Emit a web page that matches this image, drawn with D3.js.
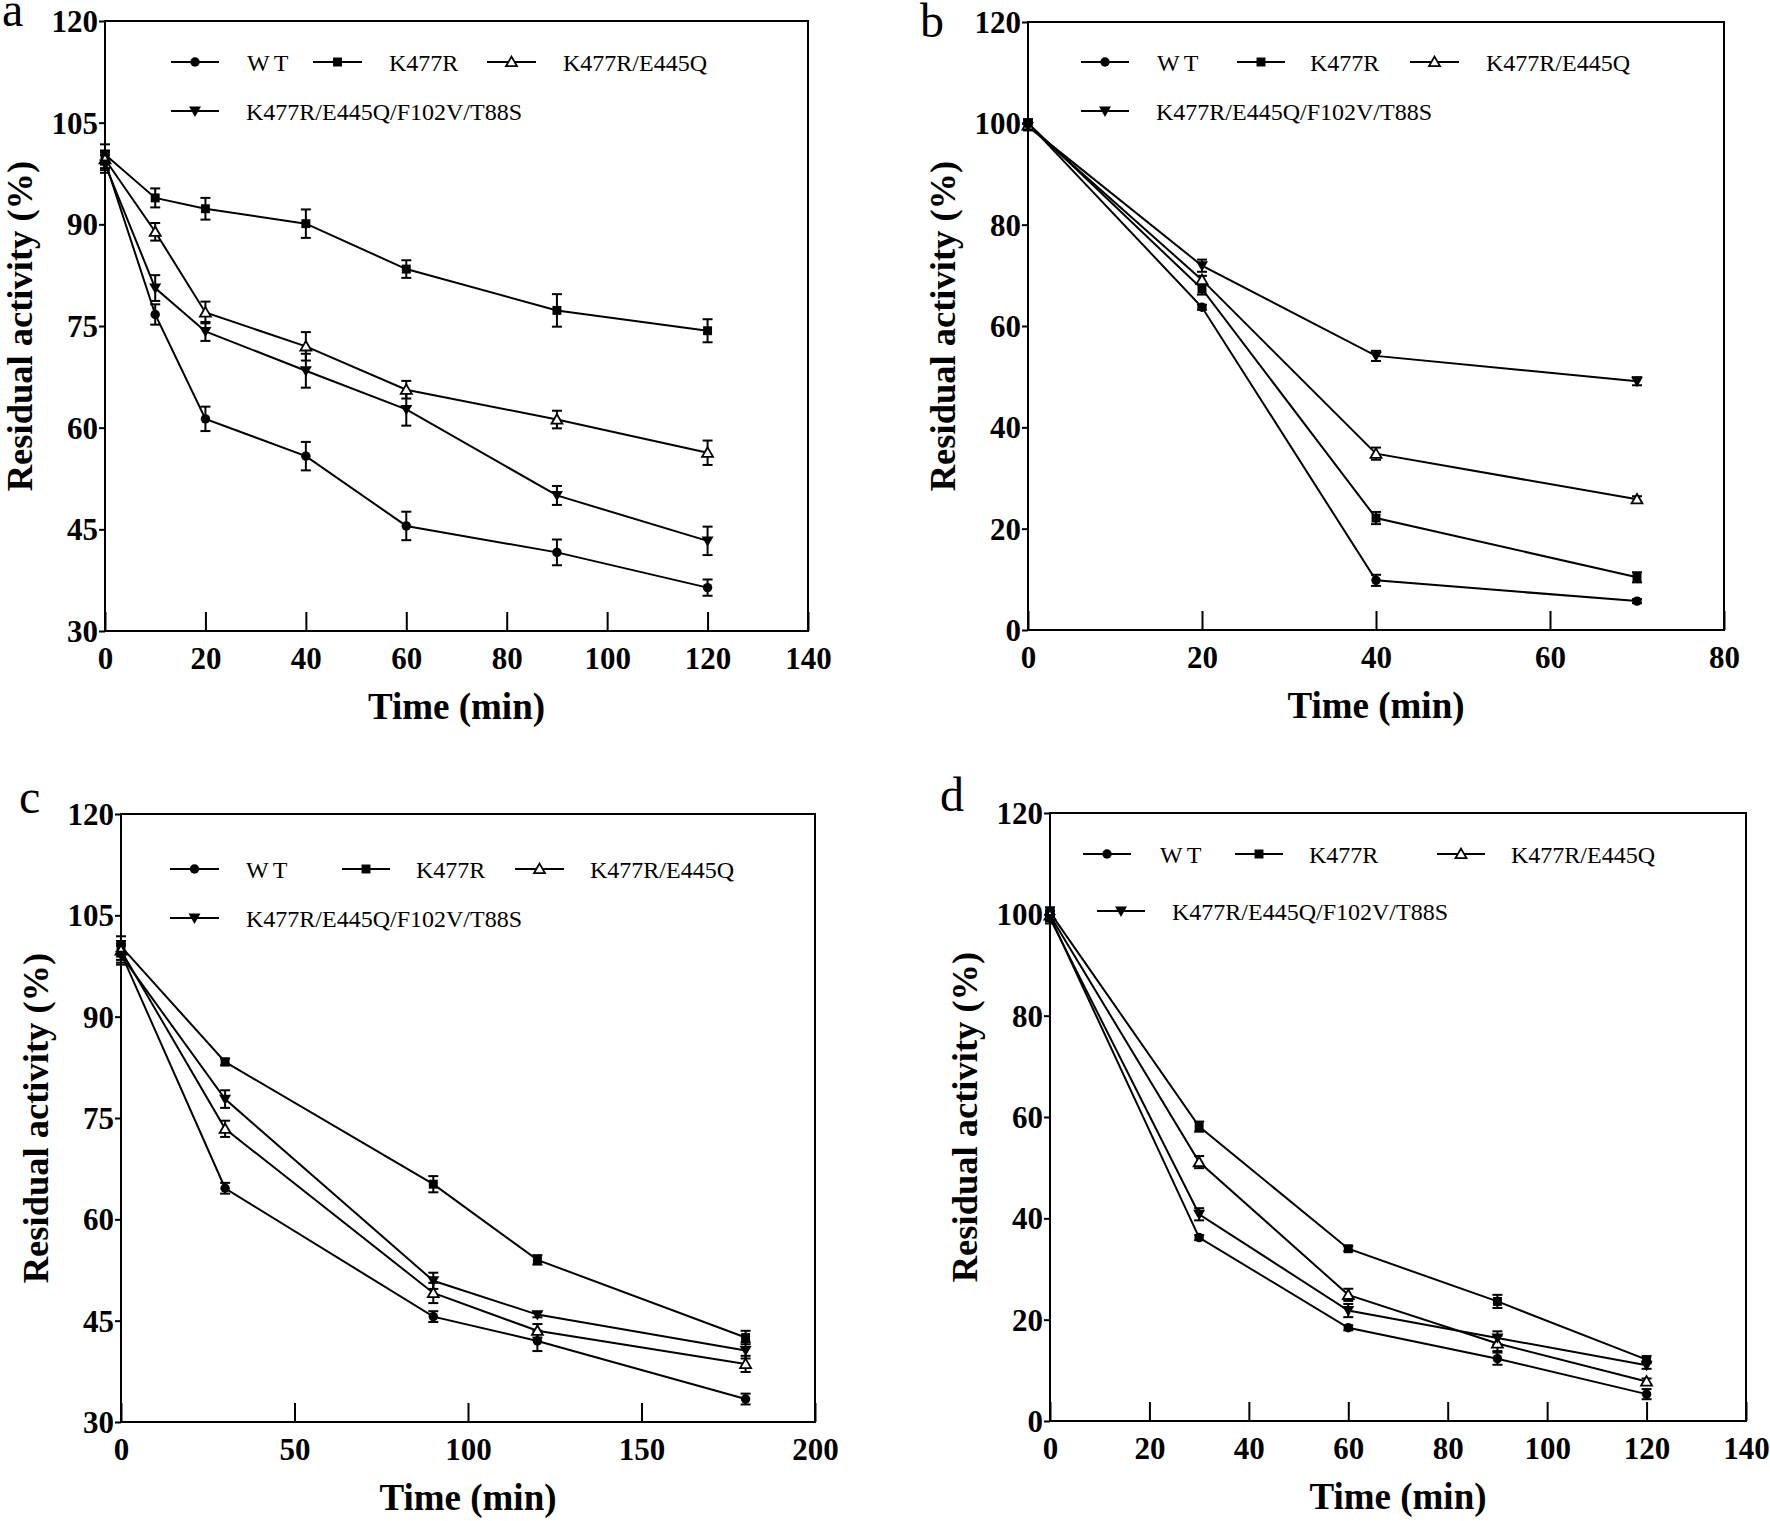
<!DOCTYPE html>
<html>
<head>
<meta charset="utf-8">
<script src="https://cdn.jsdelivr.net/npm/d3@7"></script>
<style>
  html, body { margin: 0; padding: 0; background: #fff; }
  svg { display: block; }
</style>
</head>
<body>
<svg id="chart" width="1770" height="1521"></svg>
<script>
// ---------------- DATA ----------------
const seriesNames = ["WT", "K477R", "K477R/E445Q", "K477R/E445Q/F102V/T88S"];

// Panel a
const timeA = [0, 10, 20, 40, 60, 90, 120];
const wtA      = [99.3, 76.7, 61.3, 55.8, 45.5, 41.6, 36.4];
const wtErrA   = [1.3, 1.5, 1.8, 2.1, 2.1, 1.9, 1.2];
const k477rA   = [100.3, 93.9, 92.3, 90.1, 83.4, 77.3, 74.3];
const k477rErrA= [1.5, 1.4, 1.6, 2.1, 1.3, 2.4, 1.7];
const triA     = [99.6, 88.9, 77.0, 72.0, 65.6, 61.2, 56.3];
const triErrA  = [1.3, 1.3, 1.6, 2.1, 1.3, 1.3, 1.8];
const quadA    = [98.9, 80.6, 74.2, 68.4, 62.7, 50.0, 43.3];
const quadErrA = [1.3, 1.9, 1.4, 2.5, 2.4, 1.4, 2.1];
const yTicksA = [30, 45, 60, 75, 90, 105, 120];
const xTicksA = [0, 20, 40, 60, 80, 100, 120, 140];

// Panel b
const timeB = [0, 20, 40, 70];
const wtB      = [100, 63.7, 9.8, 5.7];
const wtErrB   = [0.8, 0.5, 1.1, 0.4];
const k477rB   = [100, 67.3, 22.1, 10.4];
const k477rErrB= [0.8, 1.1, 1.2, 1.0];
const triB     = [99.6, 69.1, 34.8, 25.8];
const triErrB  = [0.8, 0.8, 1.2, 0.6];
const quadB    = [99.4, 71.9, 54.1, 49.1];
const quadErrB = [0.8, 1.2, 1.0, 0.8];
const yTicksB = [0, 20, 40, 60, 80, 100, 120];
const xTicksB = [0, 20, 40, 60, 80];

// Panel c
const timeC = [0, 30, 90, 120, 180];
const wtC      = [99.4, 64.6, 45.6, 42.0, 33.4];
const wtErrC   = [1.4, 0.8, 0.8, 1.5, 0.8];
const k477rC   = [100.4, 83.3, 65.2, 54.0, 42.5];
const k477rErrC= [1.5, 0.5, 1.2, 0.7, 1.0];
const triC     = [99.8, 73.4, 49.1, 43.5, 38.6];
const triErrC  = [1.4, 1.2, 1.5, 1.0, 1.2];
const quadC    = [99.1, 77.8, 50.9, 45.9, 40.6];
const quadErrC = [1.4, 1.3, 1.2, 0.4, 1.2];
const yTicksC = [30, 45, 60, 75, 90, 105, 120];
const xTicksC = [0, 50, 100, 150, 200];

// Panel d
const timeD = [0, 30, 60, 90, 120];
const wtD      = [99.6, 36.2, 18.4, 12.3, 5.3];
const wtErrD   = [1.0, 0.5, 0.5, 1.2, 1.0];
const k477rD   = [100.4, 58.1, 34.0, 23.6, 12.1];
const k477rErrD= [1.0, 1.0, 0.5, 1.3, 0.7];
const triD     = [99.8, 51.1, 24.9, 15.3, 7.8];
const triErrD  = [1.0, 1.2, 1.2, 1.5, 0.6];
const quadD    = [99.2, 40.8, 21.8, 16.4, 11.0];
const quadErrD = [1.0, 1.2, 1.3, 1.3, 0.7];
const yTicksD = [0, 20, 40, 60, 80, 100, 120];
const xTicksD = [0, 20, 40, 60, 80, 100, 120, 140];

const xTitle = "Time (min)";
const yTitle = "Residual activity (%)";

// ---------------- LAYOUT ----------------
const panels = [
  { letter: "a", lx: 2, ly: 26,
    box: { l: 105, r: 808, t: 21, b: 631 }, xDom: [0, 140], yDom: [30, 120],
    xTicks: xTicksA, yTicks: yTicksA, time: timeA,
    series: [[wtA, wtErrA], [k477rA, k477rErrA], [triA, triErrA], [quadA, quadErrA]],
    legRows: [62, 111],
    leg: [[171, 219, 247, 0], [313, 362, 389, 0], [487, 536, 563, 0], [171, 219, 246, 1]] },
  { letter: "b", lx: 920, ly: 37,
    box: { l: 1028, r: 1724, t: 22, b: 630 }, xDom: [0, 80], yDom: [0, 120],
    xTicks: xTicksB, yTicks: yTicksB, time: timeB,
    series: [[wtB, wtErrB], [k477rB, k477rErrB], [triB, triErrB], [quadB, quadErrB]],
    legRows: [62, 111],
    leg: [[1081, 1129, 1157, 0], [1237, 1285, 1310, 0], [1410, 1459, 1486, 0], [1081, 1129, 1156, 1]] },
  { letter: "c", lx: 19, ly: 813,
    box: { l: 121, r: 815, t: 814, b: 1422 }, xDom: [0, 200], yDom: [30, 120],
    xTicks: xTicksC, yTicks: yTicksC, time: timeC,
    series: [[wtC, wtErrC], [k477rC, k477rErrC], [triC, triErrC], [quadC, quadErrC]],
    legRows: [869, 918],
    leg: [[170, 219, 246, 0], [342, 390, 416, 0], [515, 564, 590, 0], [170, 219, 246, 1]] },
  { letter: "d", lx: 940, ly: 811,
    box: { l: 1050, r: 1746, t: 813, b: 1421 }, xDom: [0, 140], yDom: [0, 120],
    xTicks: xTicksD, yTicks: yTicksD, time: timeD,
    series: [[wtD, wtErrD], [k477rD, k477rErrD], [triD, triErrD], [quadD, quadErrD]],
    legRows: [854, 911],
    leg: [[1083, 1131, 1160, 0], [1235, 1283, 1309, 0], [1437, 1485, 1511, 0], [1097, 1145, 1172, 1]] }
];

const FONT = "'Liberation Serif', 'Times New Roman', serif";
const svg = d3.select("#chart");

const markerTypes = ["circle", "square", "triUp", "triDown"];
const symCircle = d3.symbol().type(d3.symbolCircle).size(70);
const symSquare = d3.symbol().type(d3.symbolSquare).size(80);
const symTriUp = d3.symbol().type(d3.symbolTriangle).size(52);
const symTriDown = d3.symbol().type(d3.symbolTriangle).size(62);

function drawMarker(g, type, x, y) {
  if (type === "circle") {
    g.append("path").attr("d", symCircle()).attr("transform", `translate(${x},${y})`).attr("fill", "#000");
  } else if (type === "square") {
    g.append("path").attr("d", symSquare()).attr("transform", `translate(${x},${y})`).attr("fill", "#000");
  } else if (type === "triUp") {
    g.append("path").attr("d", symTriUp()).attr("transform", `translate(${x},${y + 1})`)
      .attr("fill", "#fff").attr("stroke", "#000").attr("stroke-width", 1.8);
  } else {
    g.append("path").attr("d", symTriDown()).attr("transform", `translate(${x},${y - 1}) rotate(180)`).attr("fill", "#000");
  }
}

panels.forEach(p => {
  const { l, r, t, b } = p.box;
  const x = d3.scaleLinear().domain(p.xDom).range([l, r]);
  const y = d3.scaleLinear().domain(p.yDom).range([b, t]);
  const g = svg.append("g");

  // Panel letter
  g.append("text").attr("x", p.lx).attr("y", p.ly).text(p.letter)
    .attr("font-family", FONT).attr("font-size", 48).attr("fill", "#000");

  // X axis (ticks inward)
  const xAxis = d3.axisBottom(x).tickValues(p.xTicks).tickSizeInner(-19).tickSizeOuter(0).tickPadding(0);
  const gx = g.append("g").attr("transform", `translate(0,${b})`).call(xAxis);
  gx.select(".domain").remove();
  gx.selectAll(".tick line").attr("stroke", "#000").attr("stroke-width", 2);
  gx.selectAll(".tick text").attr("y", 38).attr("dy", 0)
    .attr("font-family", FONT).attr("font-size", 31).attr("font-weight", "bold").attr("fill", "#000");

  // Y axis (short outward ticks)
  const yAxis = d3.axisLeft(y).tickValues(p.yTicks).tickSizeInner(6).tickSizeOuter(0).tickPadding(1);
  const gy = g.append("g").attr("transform", `translate(${l},0)`).call(yAxis);
  gy.select(".domain").remove();
  gy.selectAll(".tick line").attr("stroke", "#000").attr("stroke-width", 2);
  gy.selectAll(".tick text").attr("dy", "0.34em")
    .attr("font-family", FONT).attr("font-size", 31).attr("font-weight", "bold").attr("fill", "#000");

  // Frame
  g.append("rect").attr("x", l).attr("y", t).attr("width", r - l).attr("height", b - t)
    .attr("fill", "none").attr("stroke", "#000").attr("stroke-width", 2);

  // Axis titles
  g.append("text").attr("x", (l + r) / 2).attr("y", b + 88).attr("text-anchor", "middle")
    .attr("font-family", FONT).attr("font-size", 37).attr("font-weight", "bold").text(xTitle);
  g.append("text").attr("transform", `translate(${l - 73},${(t + b) / 2}) rotate(-90)`)
    .attr("text-anchor", "middle")
    .attr("font-family", FONT).attr("font-size", 36.5).attr("font-weight", "bold").text(yTitle);

  // Series
  const line = d3.line().x(d => x(d[0])).y(d => y(d[1]));
  p.series.forEach((s, si) => {
    const pts = p.time.map((tv, i) => [tv, s[0][i], s[1][i]]);
    g.append("path").datum(pts).attr("d", line)
      .attr("fill", "none").attr("stroke", "#000").attr("stroke-width", 2);
    pts.forEach(d => {
      const cx = x(d[0]);
      const y1 = y(d[1] + d[2]), y2 = y(d[1] - d[2]);
      g.append("line").attr("x1", cx).attr("x2", cx).attr("y1", y1).attr("y2", y2)
        .attr("stroke", "#000").attr("stroke-width", 2);
      [y1, y2].forEach(yy => g.append("line").attr("x1", cx - 5).attr("x2", cx + 5)
        .attr("y1", yy).attr("y2", yy).attr("stroke", "#000").attr("stroke-width", 2));
    });
  });
  p.series.forEach((s, si) => {
    p.time.forEach((tv, i) => drawMarker(g, markerTypes[si], x(tv), y(s[0][i])));
  });

  // Legend
  p.leg.forEach((e, si) => {
    const ry = p.legRows[e[3]];
    g.append("line").attr("x1", e[0]).attr("x2", e[1]).attr("y1", ry).attr("y2", ry)
      .attr("stroke", "#000").attr("stroke-width", 2);
    drawMarker(g, markerTypes[si], (e[0] + e[1]) / 2, ry);
    const tx = g.append("text").attr("x", e[2]).attr("y", ry + 8.5)
      .attr("font-family", FONT).attr("font-size", 24).attr("fill", "#000").text(seriesNames[si]);
    if (si === 0) tx.attr("letter-spacing", 4);
  });
});
</script>
</body>
</html>
